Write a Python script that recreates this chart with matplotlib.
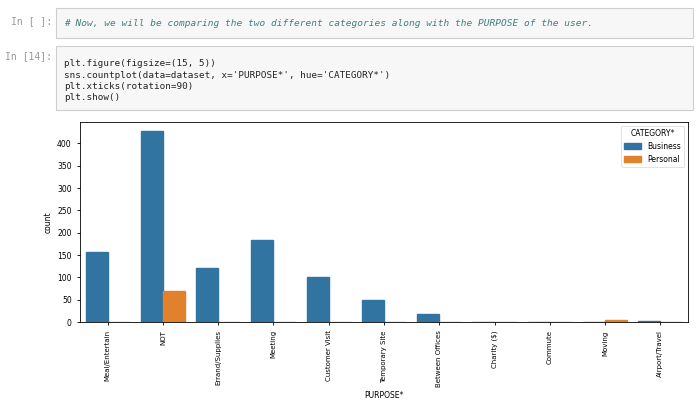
import numpy as np
import matplotlib
matplotlib.use("Agg")
import matplotlib.pyplot as plt
from matplotlib.patches import Rectangle

purposes = ['Meal/Entertain', 'NOT', 'Errand/Supplies', 'Meeting', 'Customer Visit',
            'Temporary Site', 'Between Offices', 'Charity ($)', 'Commute', 'Moving',
            'Airport/Travel']
business = [157, 427, 121, 184, 100, 50, 19, 0, 0, 0, 3]
personal = [0, 70, 0, 0, 0, 0, 0, 1, 1, 4, 0]
categories = ['Business', 'Personal']

fig = plt.figure(figsize=(7, 4.07), dpi=100)
mono = 'DejaVu Sans Mono'

# notebook cells
cells = [(8, 38), (46, 110)]
for top, bot in cells:
    fig.patches.append(Rectangle((56 / 700, 1 - bot / 407), 637 / 700, (bot - top) / 407,
                                 transform=fig.transFigure, facecolor='#f7f7f7',
                                 edgecolor='#cfcfcf', lw=0.8))
fig.text(52 / 700, 1 - 21 / 407, 'In [ ]:', ha='right', va='center', family=mono,
         fontsize=7, color='#999999')
fig.text(64 / 700, 1 - 23 / 407,
         '# Now, we will be comparing the two different categories along with the PURPOSE of the user.',
         family=mono, style='italic', fontsize=6.8, color='#408080', va='center')
fig.text(52 / 700, 1 - 56 / 407, 'In [14]:', ha='right', va='center', family=mono,
         fontsize=7, color='#999999')
code = ['plt.figure(figsize=(15, 5))',
        "sns.countplot(data=dataset, x='PURPOSE*', hue='CATEGORY*')",
        'plt.xticks(rotation=90)',
        'plt.show()']
for i, line in enumerate(code):
    fig.text(64 / 700, 1 - (64 + i * 11.3) / 407, line, family=mono, fontsize=6.7,
             color='#222222', va='center')

# chart
ax = fig.add_axes([80 / 700, 1 - 322 / 407, 608 / 700, 200 / 407])
x = np.arange(len(purposes))
w = 0.4
ax.bar(x - w / 2, business, w, color='#3274a1', edgecolor='#3274a1', label=categories[0])
ax.bar(x + w / 2, personal, w, color='#e1812c', edgecolor='#e1812c', label=categories[1])
ax.set_xlim(-0.5, len(purposes) - 0.5)
ax.set_ylim(0, 448)
ax.set_yticks(range(0, 401, 50))
ax.set_xticks(x)
ax.set_xticklabels(purposes, rotation=90, fontsize=5)
ax.tick_params(axis='y', labelsize=5.5, length=2.5, width=0.6)
ax.tick_params(axis='x', length=2.5, width=0.6)
ax.set_ylabel('count', fontsize=5.5, labelpad=3)
ax.set_xlabel('PURPOSE*', fontsize=5.5, labelpad=3)
for s in ax.spines.values():
    s.set_linewidth(0.6)
leg = ax.legend(title='CATEGORY*', fontsize=5.5, title_fontsize=5.5, loc='upper right',
                handlelength=2.2, handleheight=0.8)
leg.get_frame().set_linewidth(0.5)

fig.savefig('out.png', dpi=100)
